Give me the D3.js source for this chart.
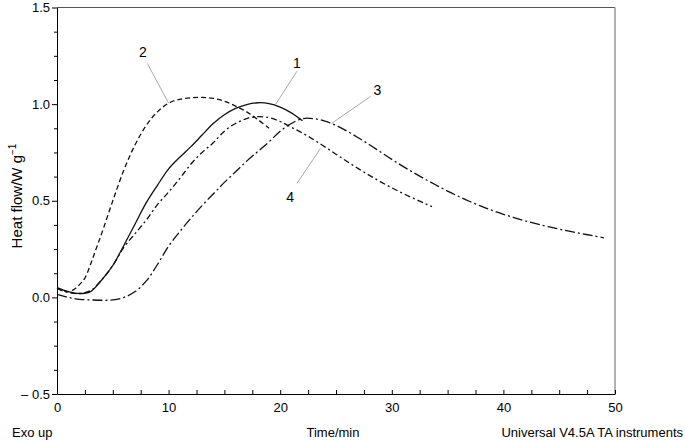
<!DOCTYPE html>
<html>
<head>
<meta charset="utf-8">
<script src="https://cdn.jsdelivr.net/npm/d3@7"></script>
<style>
  body { margin: 0; background: #fff; }
  text { font-family: "Liberation Sans", Arial, sans-serif; fill: #000; }
</style>
</head>
<body>
<svg width="685" height="441"></svg>
<script>
// time (min), heat flow (W/g)
var curve1 = [[0,0.05],[1,0.03],[2,0.02],[3,0.03],[4,0.09],[5,0.165],[6,0.27],[7,0.38],[8,0.49],[9,0.58],[10,0.665],[11,0.725],[12,0.78],[13,0.84],[14,0.9],[15,0.945],[16,0.978],[17,0.998],[18,1.007],[19,1.003],[20,0.985],[21,0.955],[22,0.914]];
var curve2 = [[0,0.05],[0.5,0.035],[1,0.03],[1.5,0.04],[2,0.065],[2.5,0.1],[3,0.17],[3.5,0.25],[4,0.33],[5,0.5],[6,0.66],[7,0.79],[8,0.89],[9,0.96],[10,1.005],[11,1.025],[12,1.033],[13,1.035],[14,1.03],[15,1.015],[16,0.99],[17,0.96],[18,0.92],[19,0.875]];
var curve3 = [[0,0.015],[1,0.0],[2,-0.01],[3,-0.013],[4,-0.015],[5,-0.013],[6,0.0],[7,0.03],[8,0.085],[9,0.17],[10,0.265],[11,0.34],[12,0.41],[13,0.475],[14,0.535],[15,0.595],[16,0.65],[17,0.705],[18,0.755],[19,0.805],[20,0.86],[21,0.9],[22,0.925],[23,0.925],[24,0.912],[25,0.89],[26,0.86],[27,0.826],[28,0.79],[29,0.752],[30,0.714],[31,0.678],[32,0.644],[33,0.611],[34,0.58],[35,0.55],[36,0.522],[37,0.496],[38,0.472],[39,0.45],[40,0.43],[41,0.412],[42,0.395],[43,0.38],[44,0.366],[45,0.353],[46,0.341],[47,0.33],[48,0.319],[49,0.308]];
var curve4 = [[0,0.045],[1,0.025],[2,0.02],[3,0.035],[4,0.09],[5,0.165],[6,0.26],[7,0.33],[8,0.4],[9,0.48],[10,0.545],[11,0.615],[12,0.69],[13,0.75],[14,0.8],[15,0.86],[16,0.9],[17,0.925],[18,0.935],[19,0.93],[20,0.91],[21,0.88],[22,0.85],[23,0.816],[24,0.779],[25,0.741],[26,0.703],[27,0.666],[28,0.631],[29,0.598],[30,0.567],[31,0.538],[32,0.511],[33,0.485],[33.6,0.47]];

var curveNames = ["1", "2", "3", "4"];
var xTicks = [0, 10, 20, 30, 40, 50];
var yTicks = [-0.5, 0, 0.5, 1.0, 1.5];

// number position, leader start and leader end, as [t, v]
var labelAt = [[21.5, 1.21], [7.7, 1.27], [28.7, 1.07], [20.9, 0.52]];
var leaderFrom = [[21.5, 1.17], [8.1, 1.21], [28.1, 1.04], [21.5, 0.59]];
var leaderTo = [[19.6, 1.0], [10.0, 1.005], [24.6, 0.9], [23.6, 0.77]];

var svg = d3.select("svg"),
    mLeft = 57, mRight = 615, mTop = 7.5, mBottom = 394;

var x = d3.scaleLinear().domain([0, 50]).range([mLeft, mRight]);
var y = d3.scaleLinear().domain([-0.5, 1.5]).range([mBottom, mTop]);

// frame: top and right in grey
svg.append("line").attr("x1", mLeft).attr("x2", mRight).attr("y1", mTop).attr("y2", mTop)
    .attr("stroke", "#555").attr("stroke-width", 1.2);
svg.append("line").attr("x1", mRight).attr("x2", mRight).attr("y1", mTop).attr("y2", mBottom)
    .attr("stroke", "#999").attr("stroke-width", 1.5);

// x axis, ticks pointing in
var xAxis = d3.axisBottom(x).tickValues(d3.range(0, 50.1, 2.5)).tickSizeInner(-4).tickSizeOuter(0)
    .tickFormat(function (d) { return xTicks.indexOf(d) >= 0 ? d : ""; });
var gx = svg.append("g").attr("transform", "translate(0," + mBottom + ")").call(xAxis);
gx.selectAll("text").attr("y", 9).attr("dy", "0.71em").style("font-size", "13px")
    .style("font-family", "Liberation Sans, Arial, sans-serif");

// y axis, ticks pointing out
var yAxis = d3.axisLeft(y).tickValues(d3.range(-0.5, 1.51, 0.125)).tickSizeOuter(0)
    .tickFormat(function (d) {
        var k = yTicks.find(function (t) { return Math.abs(t - d) < 1e-6; });
        if (k === undefined) return "";
        return k < 0 ? "\u2013 " + d3.format(".1f")(-k) : d3.format(".1f")(k);
    });
var gy = svg.append("g").attr("transform", "translate(" + mLeft + ",0)").call(yAxis);
gy.selectAll(".tick line").attr("x2", function (d) {
    return yTicks.some(function (t) { return Math.abs(t - d) < 1e-6; }) ? -5 : -3;
});
gy.selectAll("text").attr("x", -7).style("font-size", "13px")
    .style("font-family", "Liberation Sans, Arial, sans-serif");
svg.selectAll(".domain").attr("stroke", "#000");

// curves
var line = d3.line()
    .x(function (d) { return x(d[0]); })
    .y(function (d) { return y(d[1]); })
    .curve(d3.curveCatmullRom);

var dashes = [null, "5,3", "10,3,2,3", "6,3,2,3"];
[curve1, curve2, curve3, curve4].forEach(function (c, i) {
    svg.append("path")
        .attr("d", line(c))
        .attr("fill", "none")
        .attr("stroke", "#111")
        .attr("stroke-width", 1.3)
        .attr("stroke-dasharray", dashes[i]);
});

// leader lines and numbers
curveNames.forEach(function (n, i) {
    svg.append("line")
        .attr("x1", x(leaderFrom[i][0])).attr("y1", y(leaderFrom[i][1]))
        .attr("x2", x(leaderTo[i][0])).attr("y2", y(leaderTo[i][1]))
        .attr("stroke", "#aaa").attr("stroke-width", 1);
    svg.append("text")
        .attr("x", x(labelAt[i][0])).attr("y", y(labelAt[i][1]))
        .attr("text-anchor", "middle").attr("dy", "0.35em")
        .style("font-size", "14px")
        .text(n);
});

// bottom texts
svg.append("text").attr("x", 12).attr("y", 437).style("font-size", "13px").text("Exo up");
svg.append("text").attr("x", 333).attr("y", 437).attr("text-anchor", "middle")
    .style("font-size", "13px").text("Time/min");
svg.append("text").attr("x", 683).attr("y", 437).attr("text-anchor", "end")
    .style("font-size", "13px").text("Universal V4.5A TA instruments");

// y title
var yt = svg.append("text")
    .attr("transform", "translate(22," + 196 + ") rotate(-90)")
    .attr("text-anchor", "middle")
    .style("font-size", "15px");
yt.append("tspan").text("Heat flow/W g");
yt.append("tspan").attr("dy", -6).style("font-size", "10px").text("\u22121");
</script>
</body>
</html>
